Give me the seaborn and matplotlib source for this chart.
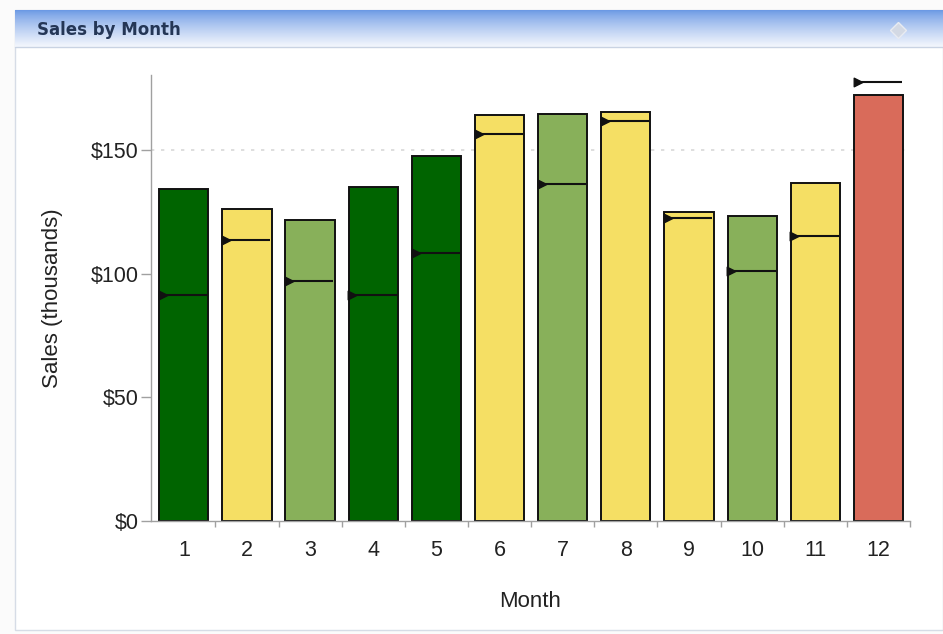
import numpy as np
import pandas as pd
import matplotlib
matplotlib.use("Agg")
import matplotlib.pyplot as plt
from matplotlib.patches import Rectangle
from matplotlib.ticker import FuncFormatter, FixedLocator
import seaborn as sns

# Monthly sales (thousands of dollars), targets and status band
months = ["1", "2", "3", "4", "5", "6", "7", "8", "9", "10", "11", "12"]
sales = [134.2, 126.1, 121.7, 135.0, 147.5, 164.1, 164.5, 165.3, 124.9, 123.3, 136.6, 172.2]
targets = [91.4, 113.6, 97.0, 91.4, 108.3, 156.4, 136.2, 161.7, 122.5, 101.1, 115.2, 177.4]
status = ["High", "Mid", "Good", "High", "High", "Mid", "Good", "Mid", "Mid", "Good", "Mid", "Low"]

status_colors = {"High": "#006400", "Good": "#88B05A", "Mid": "#F5DF64", "Low": "#D96B5A"}

sns.set_theme(style="white")
plt.rcParams["font.family"] = ["Liberation Sans", "DejaVu Sans"]

W, H = 943, 634
fig = plt.figure(figsize=(W / 100, H / 100), dpi=100)
fig.patch.set_facecolor("#fbfbfb")

def fx(px):
    return px / W

def fy(py):
    return 1 - py / H

# Panel body
fig.add_artist(Rectangle((fx(15), fy(630)), fx(943 - 15), (630 - 10) / H,
                         transform=fig.transFigure, facecolor="white",
                         edgecolor="#d6dce6", linewidth=1.0, zorder=-10))

# Header band with vertical gradient
hax = fig.add_axes([fx(15), fy(47), fx(943 - 15), (47 - 10) / H])
top = np.array([0x6A, 0x98, 0xE4]) / 255
bot = np.array([0xF4, 0xF7, 0xFD]) / 255
t = np.linspace(0, 1, 64)[:, None] ** 0.8
grad = (top[None, :] * (1 - t) + bot[None, :] * t)[:, None, :]
hax.imshow(grad, aspect="auto", extent=[0, 1, 0, 1], interpolation="bilinear")
hax.set_xlim(0, 1)
hax.set_ylim(0, 1)
hax.axis("off")
hax.text(22 / (943 - 15), 0.45, "Sales by Month", fontsize=12, fontweight="bold",
         color="#243656", family=["DejaVu Sans"], va="center", ha="left")
hax.plot([(898 - 15) / (943 - 15)], [0.45], marker="D", markersize=8, color="#d3d9e4",
         markeredgecolor="#e8ebf1")
fig.add_artist(plt.Line2D([fx(15), 1], [fy(47), fy(47)], transform=fig.transFigure,
                          color="#c9d3e3", linewidth=1.0, zorder=5))

# Chart area
ax = fig.add_axes([fx(151), fy(521), fx(910 - 151), (521 - 75) / H])
df = pd.DataFrame({"Month": months, "Sales": sales, "Status": status})
sns.barplot(data=df, x="Month", y="Sales", hue="Status", palette=status_colors,
            saturation=1, dodge=False, width=0.78, edgecolor="#111111", linewidth=1.4,
            legend=False, ax=ax, zorder=2)

x = np.arange(len(months))
half = 0.39
ax.hlines(targets, x - half + 0.03, x + half - 0.02, color="#111111", linewidth=1.5, zorder=4)
ax.scatter(x - half + 0.06, targets, marker=">", s=38, color="#111111", zorder=5)

ax.set_xlim(-0.52, 11.47)
ax.set_ylim(0, 180.3)
ax.yaxis.set_major_locator(FixedLocator([0, 50, 100, 150]))
ax.yaxis.set_major_formatter(FuncFormatter(lambda v, p: f"${v:.0f}"))
ax.axhline(150, color="#d8d8d8", linestyle=(0, (2, 4)), linewidth=1.2, zorder=1)

for side in ["top", "right"]:
    ax.spines[side].set_visible(False)
for side in ["left", "bottom"]:
    ax.spines[side].set_color("#a0a0a0")
    ax.spines[side].set_linewidth(1.0)

ax.tick_params(axis="y", which="major", left=True, length=7, width=1, color="#a0a0a0",
               labelsize=15.5, labelcolor="#222222", pad=2)
ax.tick_params(axis="x", which="major", bottom=False, labelsize=15.5,
               labelcolor="#222222", pad=8)
ax.set_xticks(x + 0.5, minor=True)
ax.tick_params(axis="x", which="minor", bottom=True, length=4, width=1, color="#a0a0a0")

ax.set_xlabel("Month", fontsize=16, color="#222222", labelpad=21)
ax.set_ylabel("Sales (thousands)", fontsize=16, color="#222222", labelpad=20)
ax.set_facecolor("white")

fig.savefig("out.png", dpi=100, facecolor=fig.get_facecolor())
